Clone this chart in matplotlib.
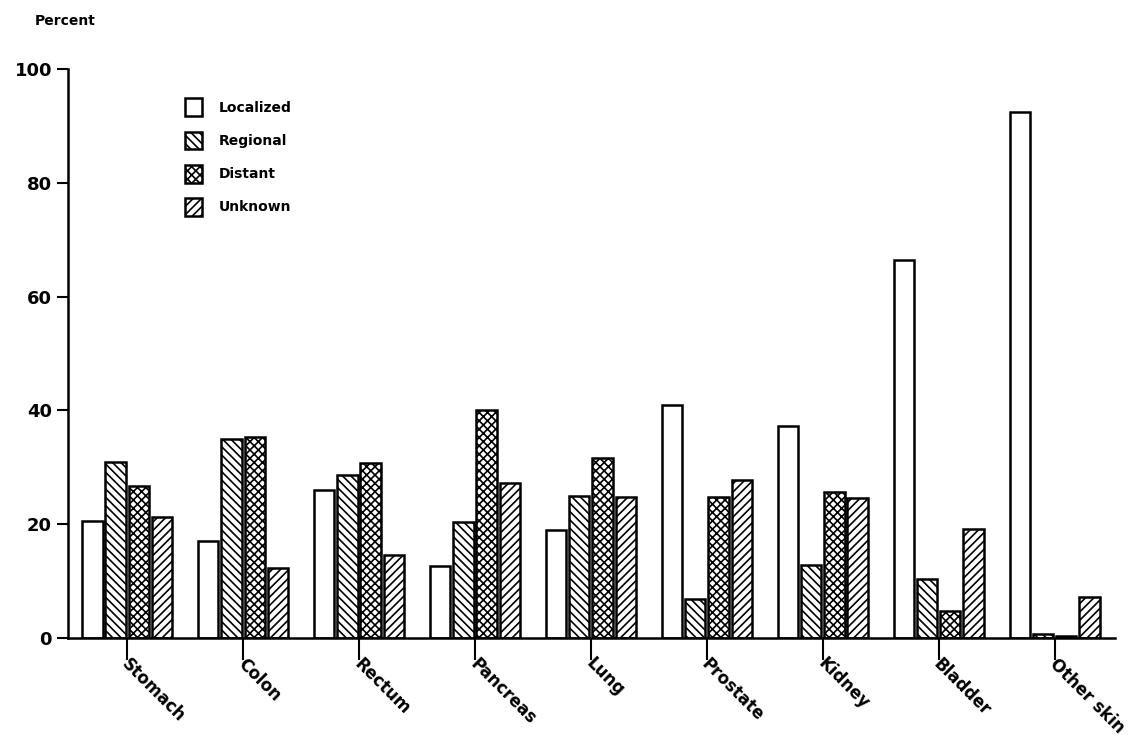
import matplotlib
matplotlib.use("Agg")
import matplotlib.pyplot as plt
import matplotlib.transforms as mtransforms
import numpy as np

SITES = ["Stomach", "Colon", "Rectum", "Pancreas", "Lung", "Prostate",
         "Kidney", "Bladder", "Other skin"]
LOCALIZED = [20.6, 17.0, 26.0, 12.6, 19.0, 41.0, 37.2, 66.5, 92.5]
REGIONAL = [31.0, 35.0, 28.7, 20.4, 25.0, 6.8, 12.9, 10.3, 0.7]
DISTANT = [26.7, 35.4, 30.8, 40.0, 31.7, 24.8, 25.7, 4.8, 0.3]
UNKNOWN = [21.3, 12.3, 14.5, 27.3, 24.8, 27.7, 24.6, 19.2, 7.2]
STAGES = ["Localized", "Regional", "Distant", "Unknown"]
HATCHES = ["", "\\\\\\\\", "xxxx", "////"]

plt.rcParams["font.family"] = "DejaVu Sans"
plt.rcParams["font.weight"] = "bold"
plt.rcParams["hatch.linewidth"] = 1.2

fig = plt.figure(figsize=(11.43, 7.41), dpi=100)
ax = fig.add_axes([0.0595, 0.139, 0.916, 0.768])

x = np.arange(len(SITES))
w = 0.175
step = 0.2
for i, (vals, h, lab) in enumerate(zip([LOCALIZED, REGIONAL, DISTANT, UNKNOWN],
                                       HATCHES, STAGES)):
    ax.bar(x - 0.3 + i * step, vals, w, facecolor="white", edgecolor="black",
           linewidth=1.8, hatch=h, label=lab)

ax.set_xlim(-0.51, 8.52)
ax.set_ylim(0, 100)
ax.set_yticks([0, 20, 40, 60, 80, 100])
ax.tick_params(axis="y", direction="out", length=8, width=1.5, labelsize=13)
ax.set_xticks(x)
ax.set_xticklabels(SITES, rotation=-45, ha="left", va="top",
                   rotation_mode="anchor", fontsize=12)
ax.tick_params(axis="x", direction="out", length=16, width=1.5, pad=-4)
shift = mtransforms.ScaledTranslation(4 / 100, 0, fig.dpi_scale_trans)
for lbl in ax.get_xticklabels():
    lbl.set_transform(lbl.get_transform() + shift)
for s in ["top", "right"]:
    ax.spines[s].set_visible(False)
for s in ["left", "bottom"]:
    ax.spines[s].set_linewidth(1.8)

fig.text(0.03, 0.972, "Percent", fontsize=10, ha="left", va="center")
ax.legend(loc="upper left", bbox_to_anchor=(0.1, 0.97), frameon=False,
          fontsize=10, handlelength=1.2, handleheight=1.6, labelspacing=1.1,
          handletextpad=1.2)

fig.savefig("out.png", dpi=100)
